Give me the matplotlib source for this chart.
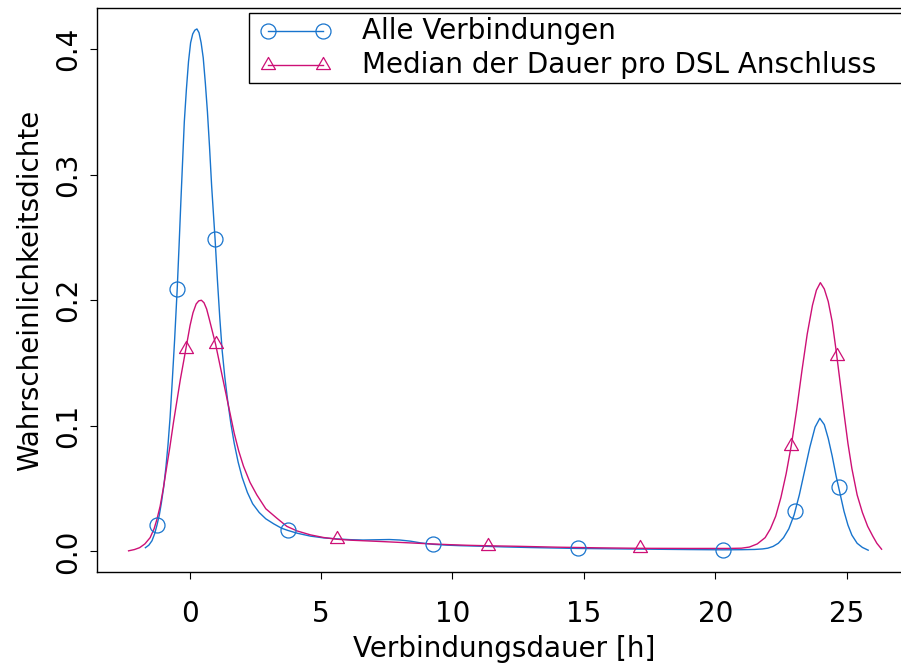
import matplotlib.pyplot as plt
from matplotlib.path import Path
from matplotlib.patches import Rectangle

# Dichtekurven
alle_x = [-1.68, -1.55, -1.43, -1.33, -1.24, -1.15, -1.07, -0.98, -0.90, -0.82,
          -0.74, -0.66, -0.57, -0.47, -0.40, -0.33, -0.26, -0.20, -0.12, -0.04,
          0.04, 0.12, 0.20, 0.28, 0.36, 0.44, 0.52, 0.60, 0.68, 0.76,
          0.84, 0.92, 0.97, 1.06, 1.15, 1.24, 1.34, 1.45, 1.57, 1.70,
          1.85, 2.0, 2.2, 2.4, 2.65, 2.9, 3.2, 3.5, 3.73, 4.1,
          4.6, 5.1, 5.6, 6.1, 6.6, 7.1, 7.6, 8.0, 8.4, 8.8,
          9.25, 9.8, 10.3, 11.2, 12.0, 13.0, 14.0, 14.77, 16.0, 17.5,
          19.0, 20.28, 21.0, 21.5, 21.8, 22.0, 22.2, 22.4, 22.6, 22.8,
          23.0, 23.2, 23.4, 23.6, 23.8, 23.98, 24.15, 24.3, 24.45, 24.6,
          24.75, 24.9, 25.05, 25.2, 25.4, 25.6, 25.82]
alle_y = [0.003, 0.005, 0.0085, 0.014, 0.021, 0.029, 0.039, 0.052, 0.067, 0.085,
          0.107, 0.135, 0.168, 0.209, 0.243, 0.279, 0.313, 0.342, 0.368, 0.390,
          0.405, 0.412, 0.415, 0.416, 0.413, 0.405, 0.393, 0.373, 0.350, 0.322,
          0.291, 0.265, 0.249, 0.216, 0.186, 0.160, 0.139, 0.120, 0.102, 0.086,
          0.071, 0.059, 0.047, 0.038, 0.031, 0.026, 0.022, 0.0185, 0.0168, 0.0145,
          0.0122, 0.0108, 0.0100, 0.0094, 0.0091, 0.0093, 0.0095, 0.0091, 0.0082, 0.0068,
          0.0057, 0.0050, 0.0046, 0.0041, 0.0036, 0.0031, 0.0027, 0.0024, 0.0021, 0.0018,
          0.0015, 0.0013, 0.0014, 0.0016, 0.0020, 0.0026, 0.0040, 0.0065, 0.011, 0.018,
          0.029, 0.045, 0.064, 0.083, 0.099, 0.106, 0.101, 0.090, 0.076, 0.060,
          0.046, 0.032, 0.021, 0.013, 0.0065, 0.0032, 0.0010]

median_x = [-2.32, -2.1, -1.9, -1.7, -1.5, -1.35, -1.24, -1.12, -1.0, -0.88,
            -0.75, -0.61, -0.48, -0.35, -0.22, -0.10, 0.02, 0.13, 0.25, 0.35,
            0.45, 0.55, 0.65, 0.75, 0.87, 0.99, 1.12, 1.25, 1.40, 1.55,
            1.70, 1.87, 2.05, 2.3, 2.56, 2.9, 3.32, 3.7, 4.08, 4.6,
            5.1, 5.62, 6.2, 6.75, 7.4, 8.0, 9.0, 9.9, 10.6, 11.4,
            12.5, 14.0, 15.5, 17.14, 19.0, 20.5, 21.0, 21.3, 21.6, 21.9,
            22.1, 22.3, 22.5, 22.7, 22.9, 23.1, 23.3, 23.5, 23.7, 23.85,
            24.0, 24.15, 24.3, 24.45, 24.6, 24.75, 24.9, 25.05, 25.2, 25.4,
            25.6, 25.8, 26.0, 26.15, 26.33]
median_y = [0.0005, 0.0015, 0.003, 0.006, 0.011, 0.018, 0.0257, 0.036, 0.050, 0.066,
            0.083, 0.103, 0.120, 0.137, 0.152, 0.166, 0.180, 0.190, 0.197, 0.1995,
            0.200, 0.198, 0.193, 0.185, 0.175, 0.165, 0.152, 0.139, 0.124, 0.109,
            0.094, 0.080, 0.068, 0.055, 0.045, 0.034, 0.0265, 0.020, 0.0164, 0.0132,
            0.0111, 0.0097, 0.0089, 0.0084, 0.0078, 0.0072, 0.0062, 0.0054, 0.0049, 0.0045,
            0.0041, 0.0034, 0.0029, 0.0025, 0.0024, 0.0024, 0.0026, 0.0035, 0.0060, 0.011,
            0.018, 0.028, 0.043, 0.062, 0.085, 0.113, 0.144, 0.173, 0.196, 0.208,
            0.214, 0.209, 0.199, 0.183, 0.160, 0.135, 0.110, 0.086, 0.066, 0.045,
            0.031, 0.020, 0.012, 0.0065, 0.0018]

# Symbole auf den Kurven
alle_pts_x = [-1.24, -0.47, 0.97, 3.73, 9.25, 14.77, 20.28, 23.04, 24.70]
alle_pts_y = [0.021, 0.209, 0.249, 0.0168, 0.0057, 0.0024, 0.0013, 0.032, 0.051]
median_pts_x = [-0.14, 0.99, 5.62, 11.37, 17.14, 22.90, 24.62]
median_pts_y = [0.161, 0.165, 0.0097, 0.0045, 0.0025, 0.084, 0.156]

xticks = [0, 5, 10, 15, 20, 25]
yticks = [0.0, 0.1, 0.2, 0.3, 0.4]
ytick_labels = ['0.0', '0.1', '0.2', '0.3', '0.4']

blue = '#1874CD'
pink = '#CD1076'
fs = 20

# R-style triangle (centred on centroid)
tri = Path([(0, 1), (-0.866, -0.5), (0.866, -0.5), (0, 1)], closed=True)

fig = plt.figure(figsize=(9.01, 6.63), dpi=100)
ax = fig.add_axes([0.108, 0.1368, 0.904, 0.851])

ax.plot(alle_x, alle_y, color=blue, lw=1.0)
ax.plot(median_x, median_y, color=pink, lw=1.0)
ax.plot(alle_pts_x, alle_pts_y, ls='none', marker='o', ms=10.8,
        mfc='none', mec=blue, mew=0.9)
ax.plot(median_pts_x, median_pts_y, ls='none', marker=tri, ms=11.6,
        mfc='none', mec=pink, mew=0.9)

ax.set_xlim(-3.51, 27.48)
ax.set_ylim(-0.0166, 0.4326)
ax.set_xticks(xticks)
ax.set_yticks(yticks, labels=ytick_labels, rotation=90, va='center')
ax.tick_params(axis='both', direction='out', length=5, width=0.8, labelsize=fs)
ax.tick_params(axis='x', pad=15)
ax.tick_params(axis='y', pad=6)
for sp in ax.spines.values():
    sp.set_linewidth(1.0)

ax.set_xlabel('Verbindungsdauer [h]', fontsize=fs, labelpad=5)
ax.set_ylabel('Wahrscheinlichkeitsdichte', fontsize=fs, labelpad=7)

# Legende
ax.add_patch(Rectangle((0.1862, 0.8672), 0.85, 0.1242, transform=ax.transAxes,
                       fc='white', ec='black', lw=1.0, clip_on=False, zorder=5))
ax.plot([0.2099, 0.2774], [0.9594, 0.9594], transform=ax.transAxes, color=blue,
        lw=1.0, marker='o', ms=10.8, mfc='none', mec=blue, mew=0.9,
        clip_on=False, zorder=6)
ax.plot([0.2099, 0.2774], [0.8986, 0.8986], transform=ax.transAxes, color=pink,
        lw=1.0, marker=tri, ms=11.6, mfc='none', mec=pink, mew=0.9,
        clip_on=False, zorder=6)
ax.text(0.3249, 0.9594, 'Alle Verbindungen', transform=ax.transAxes,
        va='center', fontsize=fs, zorder=6)
ax.text(0.3249, 0.8986, 'Median der Dauer pro DSL Anschluss', transform=ax.transAxes,
        va='center', fontsize=fs, zorder=6)

fig.savefig('out.png', dpi=100)
